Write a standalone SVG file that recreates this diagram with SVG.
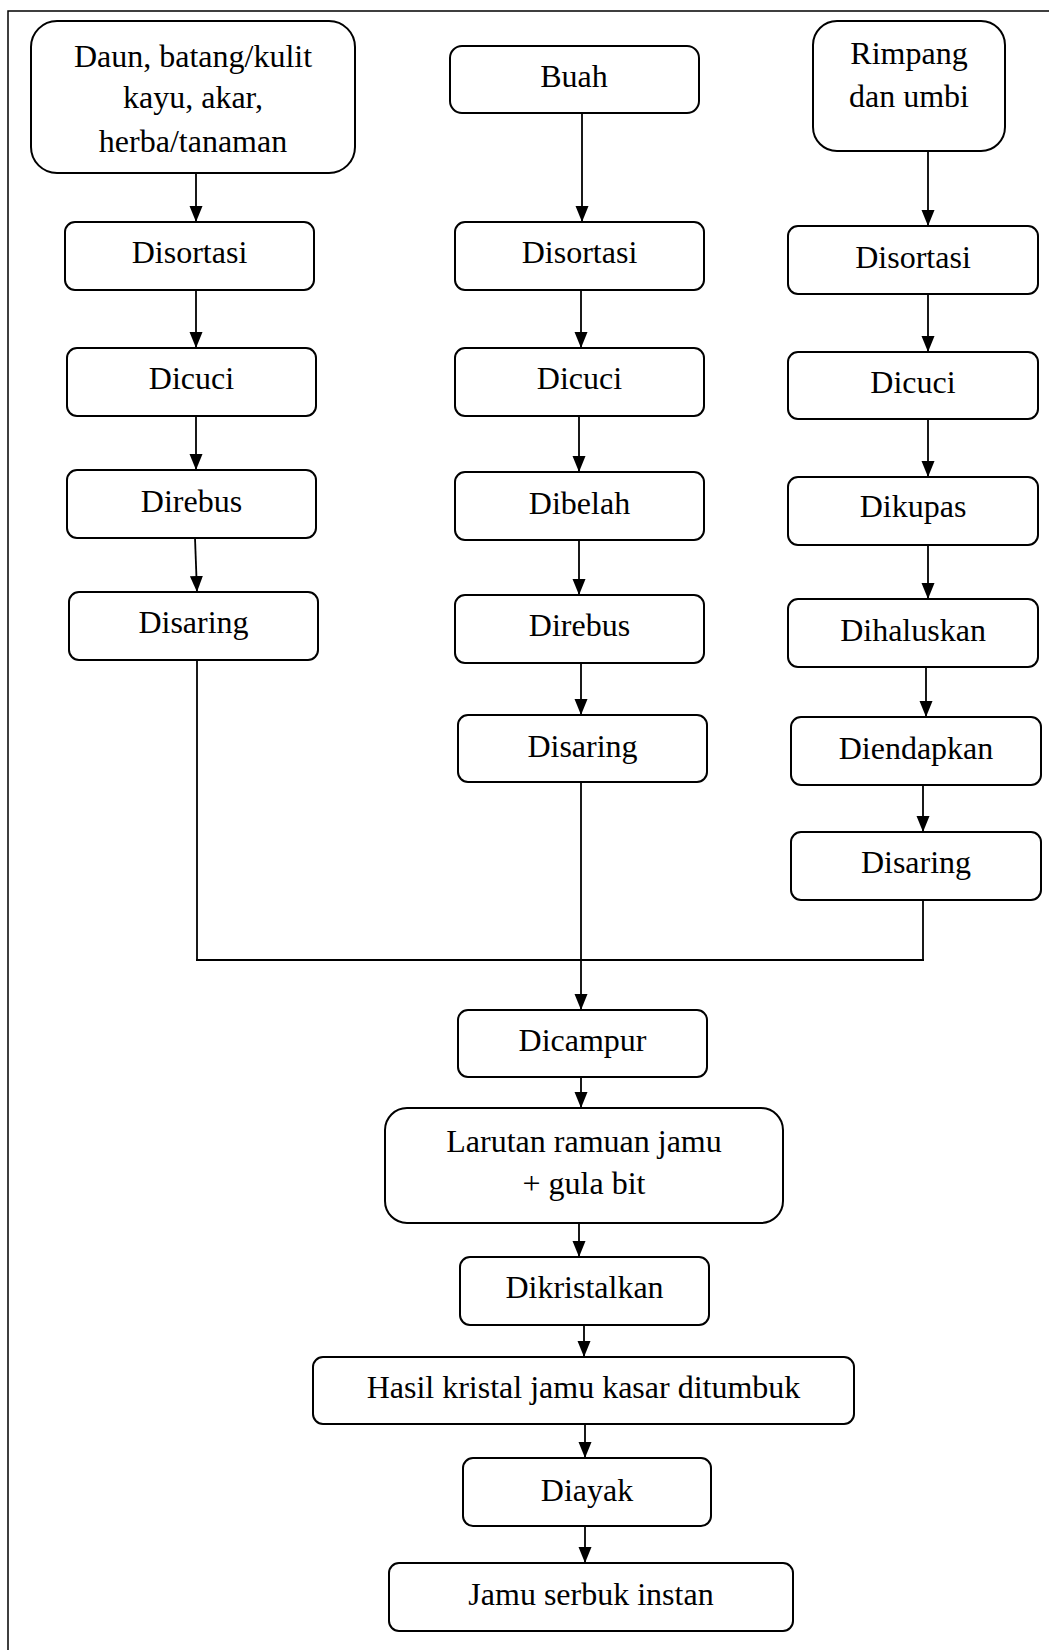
<svg xmlns="http://www.w3.org/2000/svg" width="1049" height="1650" viewBox="0 0 1049 1650">
<defs>
<style>
.box{fill:#fff;stroke:#000;stroke-width:2}
.t{font-family:"Liberation Serif","Times New Roman",serif;font-size:32px;fill:#000;text-anchor:middle}
.c{stroke:#000;stroke-width:1.8;fill:none}
.frame{stroke:#000;stroke-width:1.5;fill:none}
</style>
<marker id="ah" markerUnits="userSpaceOnUse" markerWidth="16" markerHeight="14" refX="16" refY="7" orient="auto">
<path d="M0,0.5 L16,7 L0,13.5 z" fill="#000"/>
</marker>
</defs>
<rect width="1049" height="1650" fill="#fff"/>
<path class="frame" d="M8,1650 V11 H1049"/>

<g id="connectors">
<line class="c" x1="196" y1="173" x2="196" y2="222" marker-end="url(#ah)"/>
<line class="c" x1="196" y1="290" x2="196" y2="348" marker-end="url(#ah)"/>
<line class="c" x1="196" y1="416" x2="196" y2="470" marker-end="url(#ah)"/>
<line class="c" x1="195" y1="538" x2="197" y2="592" marker-end="url(#ah)"/>
<line class="c" x1="197" y1="660" x2="197" y2="960"/>
<line class="c" x1="582" y1="113" x2="582" y2="222" marker-end="url(#ah)"/>
<line class="c" x1="581" y1="290" x2="581" y2="348" marker-end="url(#ah)"/>
<line class="c" x1="579" y1="416" x2="579" y2="472" marker-end="url(#ah)"/>
<line class="c" x1="579" y1="540" x2="579" y2="595" marker-end="url(#ah)"/>
<line class="c" x1="581" y1="663" x2="581" y2="715" marker-end="url(#ah)"/>
<line class="c" x1="581" y1="782" x2="581" y2="1010" marker-end="url(#ah)"/>
<line class="c" x1="928" y1="151" x2="928" y2="226" marker-end="url(#ah)"/>
<line class="c" x1="928" y1="294" x2="928" y2="352" marker-end="url(#ah)"/>
<line class="c" x1="928" y1="419" x2="928" y2="477" marker-end="url(#ah)"/>
<line class="c" x1="928" y1="545" x2="928" y2="599" marker-end="url(#ah)"/>
<line class="c" x1="926" y1="667" x2="926" y2="717" marker-end="url(#ah)"/>
<line class="c" x1="923" y1="785" x2="923" y2="832" marker-end="url(#ah)"/>
<line class="c" x1="923" y1="900" x2="923" y2="960"/>
<line class="c" x1="196" y1="960" x2="924" y2="960" stroke-width="2.4"/>
<line class="c" x1="581" y1="1077" x2="581" y2="1108" marker-end="url(#ah)"/>
<line class="c" x1="579" y1="1223" x2="579" y2="1257" marker-end="url(#ah)"/>
<line class="c" x1="584" y1="1325" x2="584" y2="1357" marker-end="url(#ah)"/>
<line class="c" x1="585" y1="1424" x2="585" y2="1458" marker-end="url(#ah)"/>
<line class="c" x1="585" y1="1526" x2="585" y2="1563" marker-end="url(#ah)"/>
</g>

<g id="n-daun"><rect class="box" x="31" y="21" width="324" height="152" rx="26"/>
<text class="t" x="193" y="67">Daun, batang/kulit</text>
<text class="t" x="193" y="108">kayu, akar,</text>
<text class="t" x="193" y="152">herba/tanaman</text></g>
<g id="n-buah"><rect class="box" x="450" y="46" width="249" height="67" rx="12"/>
<text class="t" x="574" y="87">Buah</text></g>
<g id="n-rimpang"><rect class="box" x="813" y="21" width="192" height="130" rx="24"/>
<text class="t" x="909" y="64">Rimpang</text>
<text class="t" x="909" y="107">dan umbi</text></g>

<g id="n-disortasi-l"><rect class="box" x="65" y="222" width="249" height="68" rx="10"/><text class="t" x="189.5" y="263">Disortasi</text></g>
<g id="n-dicuci-l"><rect class="box" x="67" y="348" width="249" height="68" rx="10"/><text class="t" x="191.5" y="389">Dicuci</text></g>
<g id="n-direbus-l"><rect class="box" x="67" y="470" width="249" height="68" rx="10"/><text class="t" x="191.5" y="512">Direbus</text></g>
<g id="n-disaring-l"><rect class="box" x="69" y="592" width="249" height="68" rx="10"/><text class="t" x="193.5" y="633">Disaring</text></g>

<g id="n-disortasi-m"><rect class="box" x="455" y="222" width="249" height="68" rx="10"/><text class="t" x="579.5" y="263">Disortasi</text></g>
<g id="n-dicuci-m"><rect class="box" x="455" y="348" width="249" height="68" rx="10"/><text class="t" x="579.5" y="389">Dicuci</text></g>
<g id="n-dibelah-m"><rect class="box" x="455" y="472" width="249" height="68" rx="10"/><text class="t" x="579.5" y="514">Dibelah</text></g>
<g id="n-direbus-m"><rect class="box" x="455" y="595" width="249" height="68" rx="10"/><text class="t" x="579.5" y="636">Direbus</text></g>
<g id="n-disaring-m"><rect class="box" x="458" y="715" width="249" height="67" rx="10"/><text class="t" x="582.5" y="757">Disaring</text></g>

<g id="n-disortasi-r"><rect class="box" x="788" y="226" width="250" height="68" rx="10"/><text class="t" x="913" y="268">Disortasi</text></g>
<g id="n-dicuci-r"><rect class="box" x="788" y="352" width="250" height="67" rx="10"/><text class="t" x="913" y="393">Dicuci</text></g>
<g id="n-dikupas-r"><rect class="box" x="788" y="477" width="250" height="68" rx="10"/><text class="t" x="913" y="517">Dikupas</text></g>
<g id="n-dihaluskan-r"><rect class="box" x="788" y="599" width="250" height="68" rx="10"/><text class="t" x="913" y="641">Dihaluskan</text></g>
<g id="n-diendapkan-r"><rect class="box" x="791" y="717" width="250" height="68" rx="10"/><text class="t" x="916" y="759">Diendapkan</text></g>
<g id="n-disaring-r"><rect class="box" x="791" y="832" width="250" height="68" rx="10"/><text class="t" x="916" y="873">Disaring</text></g>

<g id="n-dicampur"><rect class="box" x="458" y="1010" width="249" height="67" rx="10"/><text class="t" x="582.5" y="1051">Dicampur</text></g>
<g id="n-larutan"><rect class="box" x="385" y="1108" width="398" height="115" rx="22"/>
<text class="t" x="584" y="1152">Larutan ramuan jamu</text>
<text class="t" x="584" y="1194">+ gula bit</text></g>
<g id="n-dikristalkan"><rect class="box" x="460" y="1257" width="249" height="68" rx="10"/><text class="t" x="584.5" y="1298">Dikristalkan</text></g>
<g id="n-hasil"><rect class="box" x="313" y="1357" width="541" height="67" rx="10"/><text class="t" x="583.5" y="1398">Hasil kristal jamu kasar ditumbuk</text></g>
<g id="n-diayak"><rect class="box" x="463" y="1458" width="248" height="68" rx="10"/><text class="t" x="587" y="1501">Diayak</text></g>
<g id="n-jamu"><rect class="box" x="389" y="1563" width="404" height="68" rx="10"/><text class="t" x="591" y="1605">Jamu serbuk instan</text></g>
</svg>
